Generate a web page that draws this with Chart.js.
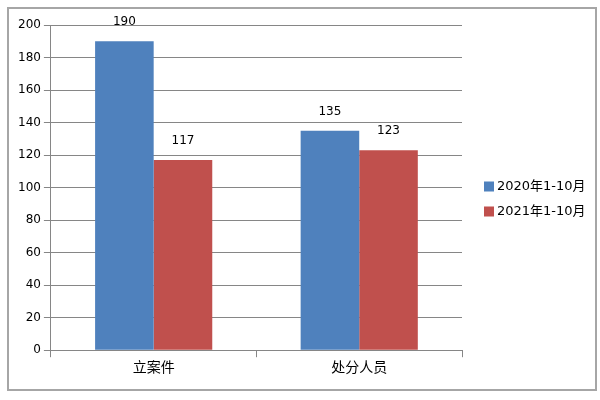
<!DOCTYPE html>
<html>
<head>
<meta charset="utf-8">
<script src="https://cdn.jsdelivr.net/npm/chart.js@4/dist/chart.umd.min.js"></script>
<style>
  html, body { margin: 0; padding: 0; background: #fff; }
  #wrap {
    position: absolute; left: 7px; top: 7px;
    width: 586px; height: 380px;
    border: 2px solid #a6a6a6;
  }
</style>
</head>
<body>
<div id="wrap"><canvas id="barChart" width="586" height="380"></canvas></div>
<script>
const categories = ['立案件', '处分人员'];
const series2020 = [190, 135];
const series2021 = [117, 123];
const seriesNames = ['2020年1-10月', '2021年1-10月'];

const FONT = "'DejaVu Sans', 'Noto Sans CJK SC', sans-serif";

// labels above each bar
const valueLabels = {
  id: 'valueLabels',
  afterDatasetsDraw(chart) {
    const ctx = chart.ctx;
    ctx.save();
    ctx.font = '12px ' + FONT;
    ctx.fillStyle = '#000';
    ctx.textAlign = 'center';
    ctx.textBaseline = 'bottom';
    chart.data.datasets.forEach((ds, i) => {
      chart.getDatasetMeta(i).data.forEach((bar, j) => {
        ctx.fillText(ds.data[j], bar.x, bar.y - 13);
      });
    });
    ctx.restore();
  }
};

// legend on the right, drawn by hand so the gap to the plot matches
const sideLegend = {
  id: 'sideLegend',
  afterDraw(chart) {
    const ctx = chart.ctx;
    const x = chart.chartArea.right + 22;
    const y0 = chart.height / 2 - 12.5;
    ctx.save();
    ctx.font = '13px ' + FONT;
    ctx.textBaseline = 'middle';
    ctx.textAlign = 'left';
    chart.data.datasets.forEach((ds, i) => {
      const y = y0 + i * 25;
      ctx.fillStyle = ds.backgroundColor;
      ctx.fillRect(x, y - 5, 10, 10);
      ctx.fillStyle = '#000';
      ctx.fillText(ds.label, x + 13, y);
    });
    ctx.restore();
  }
};

new Chart(document.getElementById('barChart'), {
  type: 'bar',
  data: {
    labels: categories,
    datasets: [{
      label: seriesNames[0],
      data: series2020,
      backgroundColor: '#4f81bd'
    }, {
      label: seriesNames[1],
      data: series2021,
      backgroundColor: '#c0504d'
    }]
  },
  options: {
    responsive: false,
    animation: false,
    layout: { padding: { left: 6, top: 16, bottom: 9, right: 133 } },
    plugins: {
      legend: { display: false },
      tooltip: { enabled: false }
    },
    datasets: {
      bar: { barPercentage: 1, categoryPercentage: 0.57 }
    },
    scales: {
      x: {
        grid: { drawOnChartArea: false, color: '#868686', tickLength: 7 },
        border: { color: '#868686' },
        ticks: { color: '#000', font: { family: FONT, size: 14 } }
      },
      y: {
        min: 0,
        max: 200,
        ticks: { stepSize: 20, color: '#000', font: { family: FONT, size: 12 } },
        grid: { color: '#868686', tickLength: 7 },
        border: { color: '#868686' }
      }
    }
  },
  plugins: [valueLabels, sideLegend]
});
</script>
</body>
</html>
